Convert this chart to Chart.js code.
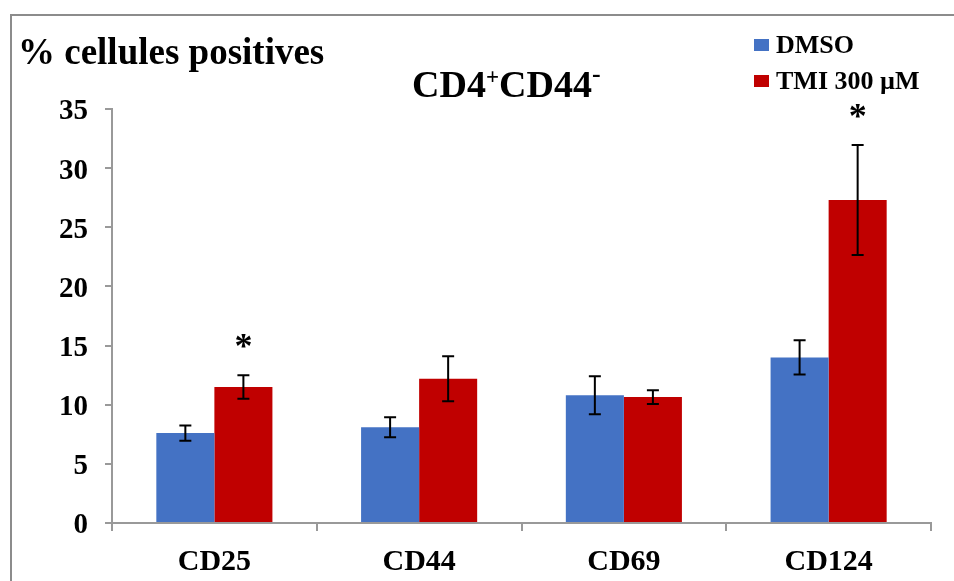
<!DOCTYPE html>
<html>
<head>
<meta charset="utf-8">
<script src="https://cdn.jsdelivr.net/npm/chart.js@4/dist/chart.umd.min.js"></script>
<style>
    html, body { margin: 0; padding: 0; background: #fff; }
    #wrap { position: relative; width: 954px; height: 581px; overflow: hidden; }
    #frame { position: absolute; left: 10px; top: 14px; width: 1000px; height: 700px; border: 2px solid #8c8c8c; box-sizing: border-box; }
    #chart { position: absolute; left: 0; top: 0; }
</style>
</head>
<body>
<div id="wrap">
    <div id="frame"></div>
    <canvas id="chart" width="954" height="581"></canvas>
</div>
<script>
const categories = ["CD25", "CD44", "CD69", "CD124"];
const dmsoValues = [7.6, 8.1, 10.8, 14.0];
const dmsoErrors = [0.65, 0.85, 1.6, 1.45];
const tmiValues = [11.5, 12.2, 10.65, 27.3];
const tmiErrors = [1.0, 1.9, 0.58, 4.65];
const dmsoSignif = [false, false, false, false];
const tmiSignif = [true, false, false, true];
const yTicks = [0, 5, 10, 15, 20, 25, 30, 35];

const SERIF = "'Liberation Serif', 'Times New Roman', serif";

const errorBars = {
    id: "errorBars",
    afterDatasetsDraw(chart) {
        const ctx = chart.ctx;
        const y = chart.scales.y;
        ctx.save();
        chart.data.datasets.forEach((ds, i) => {
            const meta = chart.getDatasetMeta(i);
            meta.data.forEach((bar, j) => {
                const v = ds.data[j], e = ds.errors[j];
                const top = y.getPixelForValue(v + e);
                const bot = y.getPixelForValue(v - e);
                ctx.strokeStyle = "#000";
                ctx.lineWidth = 2;
                ctx.beginPath();
                ctx.moveTo(bar.x, top); ctx.lineTo(bar.x, bot);
                ctx.moveTo(bar.x - 6, top); ctx.lineTo(bar.x + 6, top);
                ctx.moveTo(bar.x - 6, bot); ctx.lineTo(bar.x + 6, bot);
                ctx.stroke();
                if (ds.signif[j]) {
                    ctx.fillStyle = "#000";
                    ctx.font = "bold 36px " + SERIF;
                    ctx.textAlign = "center";
                    ctx.textBaseline = "middle";
                    ctx.fillText("*", bar.x, top - 26);
                }
            });
        });
        ctx.restore();
    }
};

const decorations = {
    id: "decorations",
    afterDraw(chart) {
        const ctx = chart.ctx;
        ctx.save();
        ctx.fillStyle = "#000";
        ctx.textBaseline = "alphabetic";
        ctx.textAlign = "left";

        // y axis title
        ctx.font = "bold 37px " + SERIF;
        ctx.fillText("% cellules positives", 18, 64);

        // chart title with superscripts
        let x = 412;
        const parts = [["CD4", 38, 0], ["+", 23, -13], ["CD44", 38, 0], ["-", 26, -15]];
        for (const [t, size, dy] of parts) {
            ctx.font = "bold " + size + "px " + SERIF;
            ctx.fillText(t, x, 97 + dy);
            x += ctx.measureText(t).width;
        }

        // legend
        ctx.font = "bold 26px " + SERIF;
        chart.data.datasets.forEach((ds, i) => {
            const base = 53 + i * 36;
            ctx.fillStyle = ds.backgroundColor;
            ctx.fillRect(754, base - 14, 15, 12);
            ctx.fillStyle = "#000";
            ctx.fillText(ds.label, 776, base);
        });
        ctx.restore();
    }
};

new Chart(document.getElementById("chart"), {
    type: "bar",
    data: {
        labels: categories,
        datasets: [
            { label: "DMSO", data: dmsoValues, errors: dmsoErrors, signif: dmsoSignif, backgroundColor: "#4472C4" },
            { label: "TMI 300 µM", data: tmiValues, errors: tmiErrors, signif: tmiSignif, backgroundColor: "#C00000" }
        ]
    },
    options: {
        responsive: false,
        animation: false,
        layout: { padding: { top: 109, right: 23, left: 0, bottom: 0 } },
        plugins: { legend: { display: false }, tooltip: { enabled: false } },
        datasets: { bar: { categoryPercentage: 0.567, barPercentage: 1.0 } },
        scales: {
            x: {
                grid: { display: true, drawOnChartArea: false, offset: true, color: "#999", tickLength: 8, lineWidth: 2 },
                border: { color: "#999", width: 2 },
                ticks: { color: "#000", font: { family: SERIF, size: 30, weight: "bold" }, padding: 13 },
                afterFit(s) { s.height = 58; }
            },
            y: {
                min: 0, max: 35,
                afterBuildTicks(s) { s.ticks = yTicks.map(v => ({ value: v })); },
                grid: { display: true, drawOnChartArea: false, color: "#999", tickLength: 7, lineWidth: 2 },
                border: { color: "#999", width: 2 },
                ticks: { color: "#000", font: { family: SERIF, size: 29, weight: "bold" }, padding: 17, labelOffset: 3 },
                afterFit(s) { s.width = 112; }
            }
        }
    },
    plugins: [errorBars, decorations]
});
</script>
</body>
</html>
